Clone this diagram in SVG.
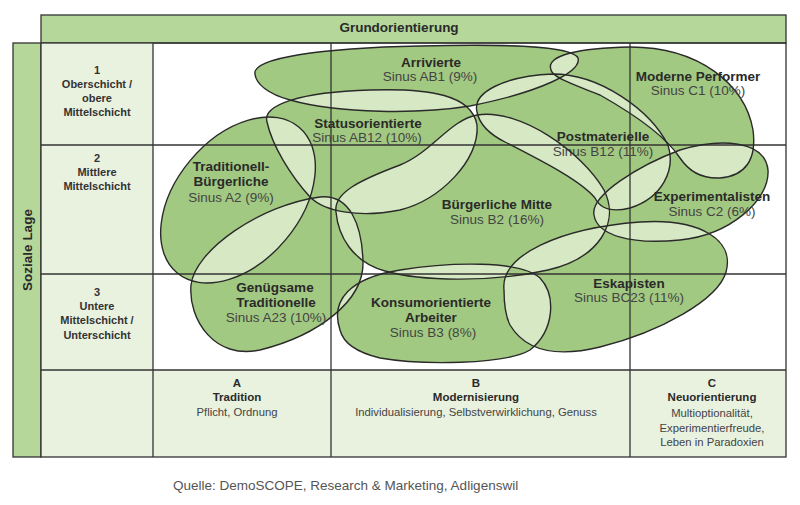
<svg xmlns="http://www.w3.org/2000/svg" width="800" height="505" viewBox="0 0 800 505">
<style>
text{font-family:"Liberation Sans",Arial,sans-serif;text-anchor:middle}
.hd{font-weight:bold;font-size:13.5px;fill:#2a2a2a}
.rh{font-weight:bold;font-size:11px;fill:#333}
.nb{font-weight:bold;font-size:13.5px;fill:#2a2a2a}
.ns{font-size:13.5px;fill:#444}
.cb{font-weight:bold;font-size:11.5px;fill:#2a2a2a}
.cs{font-size:11.3px;fill:#444}
.ln{stroke:#333;stroke-width:1.3;fill:none}
.ol{fill:none;stroke:#2a2a2a;stroke-width:1.4}
</style>
<rect width="800" height="505" fill="#fff"/>
<g id="grid">
<rect x="41" y="15" width="745" height="28" fill="#b5d79a" stroke="#333" stroke-width="1.3"/>
<rect x="13" y="43" width="28" height="414" fill="#b5d79a" stroke="#333" stroke-width="1.3"/>
<rect x="41" y="43" width="112" height="414" fill="#e9f1df"/>
<rect x="153" y="370" width="633" height="87" fill="#e9f1df"/>
</g>
<g id="fills">
<path fill="#d6e8c4" d="M255,74 C252,58 320,48 420,46 C500,44 572,45 578,58 C582,72 540,92 470,106 C420,114 340,114 290,100 C268,94 256,84 255,74 Z M551,70 C545,55 580,48 630,47 C700,47 745,85 753,130 C757,160 745,176 720,178 C700,179 688,170 680,158 C665,135 630,112 600,95 C575,85 553,78 551,70 Z M477,112 C472,92 505,76 553,74 C600,74 650,110 668,145 C676,170 662,198 630,208 C610,213 600,208 595,198 C580,180 540,160 505,142 C485,132 479,122 477,112 Z M267,122 C262,105 300,92 370,90 C430,88 472,95 477,125 C480,160 440,200 400,210 C360,218 325,212 310,197 C290,175 272,145 267,122 Z M336,212 C333,193 360,180 400,165 C432,152 450,120 477,115 C520,108 582,152 604,190 C620,222 600,258 548,270 C490,283 420,281 385,271 C352,262 338,235 336,212 Z M191,285 C195,250 260,205 320,197 C350,194 362,225 363,262 C364,300 320,335 260,350 C215,360 188,320 191,285 Z M340,330 C330,300 350,278 400,270 C450,262 520,260 540,278 C556,295 555,330 530,350 C505,365 420,365 380,358 C355,352 343,342 340,330 Z M594,215 C590,195 640,165 680,150 C720,138 765,140 768,170 C770,200 730,235 680,240 C630,245 597,235 594,215 Z M504,290 C500,255 560,228 640,222 C700,218 735,240 726,272 C718,300 660,332 600,347 C555,358 525,350 510,325 C505,315 504,300 504,290 Z"/>
<ellipse cx="238" cy="200" rx="95" ry="62" transform="rotate(-50 238 200)" fill="#d6e8c4"/>
<path fill="#a2c981" fill-rule="evenodd" d="M255,74 C252,58 320,48 420,46 C500,44 572,45 578,58 C582,72 540,92 470,106 C420,114 340,114 290,100 C268,94 256,84 255,74 Z M551,70 C545,55 580,48 630,47 C700,47 745,85 753,130 C757,160 745,176 720,178 C700,179 688,170 680,158 C665,135 630,112 600,95 C575,85 553,78 551,70 Z M477,112 C472,92 505,76 553,74 C600,74 650,110 668,145 C676,170 662,198 630,208 C610,213 600,208 595,198 C580,180 540,160 505,142 C485,132 479,122 477,112 Z M267,122 C262,105 300,92 370,90 C430,88 472,95 477,125 C480,160 440,200 400,210 C360,218 325,212 310,197 C290,175 272,145 267,122 Z M336,212 C333,193 360,180 400,165 C432,152 450,120 477,115 C520,108 582,152 604,190 C620,222 600,258 548,270 C490,283 420,281 385,271 C352,262 338,235 336,212 Z M191,285 C195,250 260,205 320,197 C350,194 362,225 363,262 C364,300 320,335 260,350 C215,360 188,320 191,285 Z M340,330 C330,300 350,278 400,270 C450,262 520,260 540,278 C556,295 555,330 530,350 C505,365 420,365 380,358 C355,352 343,342 340,330 Z M594,215 C590,195 640,165 680,150 C720,138 765,140 768,170 C770,200 730,235 680,240 C630,245 597,235 594,215 Z M504,290 C500,255 560,228 640,222 C700,218 735,240 726,272 C718,300 660,332 600,347 C555,358 525,350 510,325 C505,315 504,300 504,290 Z M176.9,272.8 A95,62 -50 0,1 299.1,127.2 A95,62 -50 0,1 176.9,272.8 Z"/>
</g>
<g id="gridlines" class="ln">
<rect x="41" y="43" width="745" height="414"/>
<line x1="153" y1="43" x2="153" y2="457"/>
<line x1="331" y1="43" x2="331" y2="457"/>
<line x1="630" y1="43" x2="630" y2="457"/>
<line x1="41" y1="145" x2="786" y2="145"/>
<line x1="41" y1="274" x2="786" y2="274"/>
<line x1="41" y1="370" x2="786" y2="370"/>
</g>
<g id="headers">
<text class="hd" x="399" y="32">Grundorientierung</text>
<text class="hd" transform="translate(32 250) rotate(-90)">Soziale Lage</text>
<text class="rh" x="97" y="74">1</text>
<text class="rh" x="97" y="88">Oberschicht /</text>
<text class="rh" x="97" y="102">obere</text>
<text class="rh" x="97" y="116">Mittelschicht</text>
<text class="rh" x="97" y="162">2</text>
<text class="rh" x="97" y="176">Mittlere</text>
<text class="rh" x="97" y="190">Mittelschicht</text>
<text class="rh" x="97" y="296">3</text>
<text class="rh" x="97" y="310">Untere</text>
<text class="rh" x="97" y="324">Mittelschicht /</text>
<text class="rh" x="97" y="339">Unterschicht</text>
</g>
<g id="colA">
<text class="cb" x="237" y="387">A</text>
<text class="cb" x="237" y="401">Tradition</text>
<text class="cs" x="237" y="416">Pflicht, Ordnung</text>
</g>
<g id="colB">
<text class="cb" x="476" y="387">B</text>
<text class="cb" x="476" y="401">Modernisierung</text>
<text class="cs" x="476" y="416">Individualisierung, Selbstverwirklichung, Genuss</text>
</g>
<g id="colC">
<text class="cb" x="712" y="387">C</text>
<text class="cb" x="712" y="401">Neuorientierung</text>
<text class="cs" x="712" y="417">Multioptionalität,</text>
<text class="cs" x="712" y="432">Experimentierfreude,</text>
<text class="cs" x="712" y="446">Leben in Paradoxien</text>
</g>
<g id="arrivierte">
<path class="ol" d="M255,74 C252,58 320,48 420,46 C500,44 572,45 578,58 C582,72 540,92 470,106 C420,114 340,114 290,100 C268,94 256,84 255,74 Z"/>
<text class="nb" x="431" y="67">Arrivierte</text>
<text class="ns" x="430" y="81">Sinus AB1 (9%)</text>
</g>
<g id="moderne-performer">
<path class="ol" d="M551,70 C545,55 580,48 630,47 C700,47 745,85 753,130 C757,160 745,176 720,178 C700,179 688,170 680,158 C665,135 630,112 600,95 C575,85 553,78 551,70 Z"/>
<text class="nb" x="698" y="81">Moderne Performer</text>
<text class="ns" x="698" y="95">Sinus C1 (10%)</text>
</g>
<g id="postmaterielle">
<path class="ol" d="M477,112 C472,92 505,76 553,74 C600,74 650,110 668,145 C676,170 662,198 630,208 C610,213 600,208 595,198 C580,180 540,160 505,142 C485,132 479,122 477,112 Z"/>
<text class="nb" x="603" y="141">Postmaterielle</text>
<text class="ns" x="603" y="156">Sinus B12 (11%)</text>
</g>
<g id="statusorientierte">
<path class="ol" d="M267,122 C262,105 300,92 370,90 C430,88 472,95 477,125 C480,160 440,200 400,210 C360,218 325,212 310,197 C290,175 272,145 267,122 Z"/>
<text class="nb" x="368" y="128">Statusorientierte</text>
<text class="ns" x="367" y="142">Sinus AB12 (10%)</text>
</g>
<g id="traditionell-buergerliche">
<ellipse class="ol" cx="238" cy="200" rx="95" ry="62" transform="rotate(-50 238 200)"/>
<text class="nb" x="231" y="171">Traditionell-</text>
<text class="nb" x="231" y="186">Bürgerliche</text>
<text class="ns" x="231" y="202">Sinus A2 (9%)</text>
</g>
<g id="buergerliche-mitte">
<path class="ol" d="M336,212 C333,193 360,180 400,165 C432,152 450,120 477,115 C520,108 582,152 604,190 C620,222 600,258 548,270 C490,283 420,281 385,271 C352,262 338,235 336,212 Z"/>
<text class="nb" x="497" y="209">Bürgerliche Mitte</text>
<text class="ns" x="497" y="224">Sinus B2 (16%)</text>
</g>
<g id="experimentalisten">
<path class="ol" d="M594,215 C590,195 640,165 680,150 C720,138 765,140 768,170 C770,200 730,235 680,240 C630,245 597,235 594,215 Z"/>
<text class="nb" x="712" y="201">Experimentalisten</text>
<text class="ns" x="712" y="216">Sinus C2 (6%)</text>
</g>
<g id="genuegsame-traditionelle">
<path class="ol" d="M191,285 C195,250 260,205 320,197 C350,194 362,225 363,262 C364,300 320,335 260,350 C215,360 188,320 191,285 Z"/>
<text class="nb" x="275" y="292">Genügsame</text>
<text class="nb" x="276" y="307">Traditionelle</text>
<text class="ns" x="276" y="322">Sinus A23 (10%)</text>
</g>
<g id="konsumorientierte-arbeiter">
<path class="ol" d="M340,330 C330,300 350,278 400,270 C450,262 520,260 540,278 C556,295 555,330 530,350 C505,365 420,365 380,358 C355,352 343,342 340,330 Z"/>
<text class="nb" x="431" y="307">Konsumorientierte</text>
<text class="nb" x="431" y="322">Arbeiter</text>
<text class="ns" x="433" y="337">Sinus B3 (8%)</text>
</g>
<g id="eskapisten">
<path class="ol" d="M504,290 C500,255 560,228 640,222 C700,218 735,240 726,272 C718,300 660,332 600,347 C555,358 525,350 510,325 C505,315 504,300 504,290 Z"/>
<text class="nb" x="629" y="288">Eskapisten</text>
<text class="ns" x="629" y="302">Sinus BC23 (11%)</text>
</g>
<g id="connectors"/>
<text x="173" y="490" style="text-anchor:start;font-size:13.5px;fill:#555">Quelle: DemoSCOPE, Research &amp; Marketing, Adligenswil</text>
</svg>
